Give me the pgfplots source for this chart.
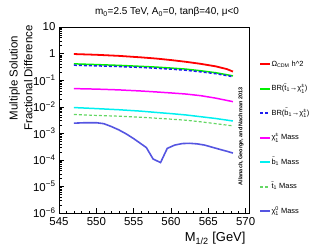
\documentclass[border=0pt]{standalone}
\usepackage{fontspec}
\setmainfont{Liberation Sans}
\usepackage{graphicx}
\usepackage{pgfplots}
\pgfplotsset{compat=1.18}
\definecolor{cred}{RGB}{255,0,0}
\definecolor{cgreen}{RGB}{0,240,0}
\definecolor{cblue}{RGB}{30,30,240}
\definecolor{cmag}{RGB}{255,0,255}
\definecolor{ccyan}{RGB}{0,240,240}
\definecolor{cgdash}{RGB}{100,215,100}
\definecolor{cchi}{RGB}{85,85,225}
\newcommand\tl[1]{\ensuremath{\tilde{\mbox{#1}}}}
\newcommand\supsub[2]{\ensuremath{^{\mbox{\fontsize{5.5}{6}\selectfont #1}}_{\mbox{\fontsize{5.5}{6}\selectfont #2}}}}
\newcommand\ep[1]{\textsuperscript{#1}}
\begin{document}
\begin{tikzpicture}
\path[use as bounding box] (0,0) rectangle (315bp,250bp);
\node[font=\fontsize{10}{12}\selectfont] at (167bp,238bp) {m\textsubscript{0}=2.5 TeV, A\textsubscript{0}=0, tanβ=40, μ<0};
\node[inner sep=0pt] at (22bp,172bp) {\rotatebox{90}{\fontsize{11.5}{15}\selectfont\begin{tabular}{@{}c@{}}Multiple Solution\\Fractional Difference\end{tabular}}};
\begin{axis}[
  at={(59bp,37bp)}, anchor=south west,
  scale only axis, width=190bp, height=186bp,
  xmin=545, xmax=570.45,
  ymode=log, ymin=1e-6, ymax=10,
  xtick={545,550,...,570}, minor x tick num=4,
  ytick={1e-6,1e-5,1e-4,1e-3,1e-2,1e-1,1,10},
  yticklabels={10\ep{−6},10\ep{−5},10\ep{−4},10\ep{−3},10\ep{−2},10\ep{−1},1,10},
  tick pos=left, tick align=inside,
  major tick length=5bp, minor tick length=2.5bp,
  /pgf/number format/assume math mode=true,
  /pgf/number format/1000 sep={},
  tick label style={font=\fontsize{11.5}{12}\selectfont},
  xticklabel style={yshift=-1bp},
  axis line style={line width=0.6pt},
  tick style={line width=0.4pt, black},
  xlabel={M\textsubscript{1/2} [GeV]},
  xlabel style={at={(axis description cs:1.0,-0.154)}, anchor=base east, font=\fontsize{13}{14}\selectfont},
  legend style={at={(1.053,0.825)}, anchor=north west, draw=none, fill=none,
    font=\fontsize{7.5}{8}\selectfont, inner sep=0pt, row sep=15.5bp,
    nodes={text height=6bp, text depth=2bp, inner sep=0.5bp}},
  legend cell align=left,
  legend image code/.code={\draw[mark repeat=2,mark phase=2,#1,line width=1.8pt] plot coordinates {(0bp,0bp) (5bp,0bp) (10bp,0bp)};},
]
\addplot[cred, line width=1.8pt] coordinates {(547,0.96) (550,0.90) (553,0.82) (556,0.72) (558,0.65) (560,0.57) (562,0.49) (564,0.41) (566,0.33) (567.5,0.26) (568.3,0.21)};
\addlegendentry{Ω\textsubscript{CDM} h\textasciicircum 2}
\addplot[cgreen, line width=1.5pt] coordinates {(547,0.41) (550,0.385) (553,0.36) (556,0.33) (558,0.31) (560,0.285) (562,0.26) (564,0.225) (566,0.19) (568.3,0.145)};
\addlegendentry{BR(\tl{t}\textsubscript{1}→χ\supsub{±}{1})}
\addplot[cblue, line width=1.5pt, dash pattern=on 3bp off 2bp] coordinates {(547,0.365) (550,0.345) (553,0.325) (556,0.30) (558,0.28) (560,0.26) (562,0.235) (564,0.205) (566,0.175) (568.3,0.135)};
\addlegendentry{BR(\tl{b}\textsubscript{1}→χ\supsub{±}{1})}
\addplot[cmag, line width=1.5pt] coordinates {(547,0.048) (550,0.046) (553,0.043) (556,0.039) (558,0.036) (560,0.033) (562,0.030) (564,0.026) (566,0.021) (568.3,0.0155)};
\addlegendentry{χ\supsub{±}{1} Mass}
\addplot[ccyan, line width=1.5pt] coordinates {(547,0.0093) (550,0.0085) (553,0.0077) (556,0.0068) (558,0.0061) (560,0.0055) (562,0.0049) (564,0.0042) (566,0.0036) (568.3,0.0029)};
\addlegendentry{\tl{b}\textsubscript{1} Mass}
\addplot[cgdash, line width=1.2pt, dash pattern=on 3bp off 2bp] coordinates {(547,0.0051) (550,0.0047) (553,0.0044) (556,0.0040) (558,0.0037) (560,0.0034) (562,0.0031) (564,0.0027) (566,0.0023) (568.3,0.0019)};
\addlegendentry{\tl{t}\textsubscript{1} Mass}
\addplot[cchi, line width=1.6pt] coordinates {(547,2.4e-3) (548.5,2.5e-3) (550,2.5e-3) (551,2.3e-3) (552,1.8e-3) (553,1.35e-3) (554,9.5e-4) (555,6.3e-4) (556,4.0e-4) (556.7,2.9e-4) (557.6,1.08e-4) (558.6,7.9e-5) (559.5,2.7e-4) (560.5,3.6e-4) (561.5,4.1e-4) (562.5,4.2e-4) (563.5,4.0e-4) (564.5,3.6e-4) (565.5,3.0e-4) (566.5,2.5e-4) (567.5,2.1e-4) (568.3,1.8e-4)};
\addlegendentry{χ\supsub{0}{1} Mass}
\node[rotate=90, font=\fontsize{5.5}{6}\selectfont\bfseries] at (rel axis cs:0.958,0.411) {Allanach, George, and Nachman 2013};
\end{axis}
\end{tikzpicture}
\end{document}
